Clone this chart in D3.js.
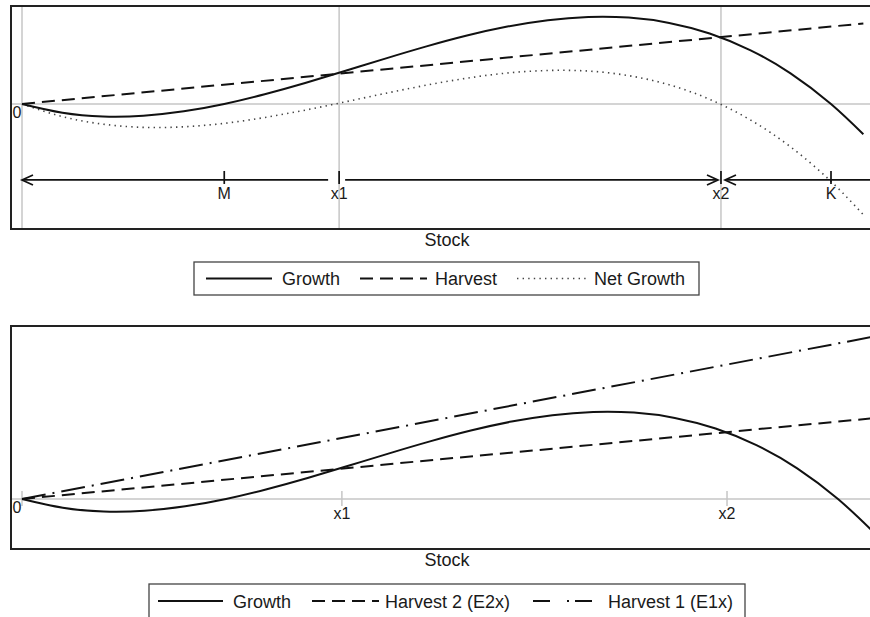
<!DOCTYPE html>
<html>
<head>
<meta charset="utf-8">
<script src="https://cdn.jsdelivr.net/npm/d3@7"></script>
<style>
  html, body { margin: 0; padding: 0; background: #fff; }
  svg { display: block; }
  text { font-family: "Liberation Sans", Arial, Helvetica, sans-serif; fill: #1a1a1a; }
</style>
</head>
<body>
<div id="chart"></div>
<script>
// ---------------- data ----------------
const stock = [0, 5, 10, 15, 20, 25, 30, 35, 40, 45, 50, 55, 60, 65, 70, 75, 80, 85, 90, 95, 100, 104];
const growth = [0, -1.08, -1.54, -1.45, -0.91, 0, 1.20, 2.59, 4.10, 5.64, 7.12, 8.46, 9.57, 10.36, 10.76, 10.68, 10.02, 8.71, 6.66, 3.79, 0, -3.74];
const netGrowth = [0, -1.56, -2.49, -2.89, -2.82, -2.39, -1.67, -0.76, 0.27, 1.33, 2.33, 3.19, 3.83, 4.14, 4.07, 3.50, 2.37, 0.58, -1.95, -5.30, -9.57, -13.69];
const harvestStock = [0, 104];
const harvest = [0, 9.95];        // top panel harvest (= Harvest 2, E2x)
const harvest2 = [0, 9.95];       // bottom panel Harvest 2 (E2x)
const harvest1 = [0, 20.0];       // bottom panel Harvest 1 (E1x)

const topMarkLabels = ["M", "x1", "x2", "K"];
const topMarkStock = [25, 39.2, 86.4, 100];
const gridStock = [0, 39.2, 86.4];
const bottomTickLabels = ["x1", "x2"];
const bottomTickStock = [39.2, 86.4];

const xTitle = "Stock";
const topLegend = ["Growth", "Harvest", "Net Growth"];
const bottomLegend = ["Growth", "Harvest 2 (E2x)", "Harvest 1 (E1x)"];

// ---------------- layout ----------------
const W = 870, H = 617;
const frameL = 11, frameR = 883;
const panelT = { y0: 6, y1: 229 };
const panelB = { y0: 326, y1: 549 };

const svg = d3.select("#chart").append("svg").attr("width", W).attr("height", H);

const xTop = d3.scaleLinear().domain([0, 100]).range([22, 831]);
const yTop = d3.scaleLinear().domain([-15.45, 12.11]).range([panelT.y1, panelT.y0]);
const xBot = d3.scaleLinear().domain([0, 100]).range([22, 838]);
const yBot = d3.scaleLinear().domain([-6.18, 21.38]).range([panelB.y1, panelB.y0]);

const styles = {
  solid:   { stroke: "#111", width: 2, dash: null },
  dash:    { stroke: "#111", width: 2, dash: "13,7" },
  dot:     { stroke: "#444", width: 1.6, dash: "1.4,4.2" },
  dashdot: { stroke: "#111", width: 2, dash: "24,7,2,7" },
  dashdotLegend: { stroke: "#111", width: 2, dash: "17,17,2,6,17" }
};
const gridColor = "#c6c6c6";

const defs = svg.append("defs");
defs.append("clipPath").attr("id", "clipTop").append("rect")
  .attr("x", frameL).attr("y", panelT.y0).attr("width", frameR - frameL).attr("height", panelT.y1 - panelT.y0);
defs.append("clipPath").attr("id", "clipBot").append("rect")
  .attr("x", frameL).attr("y", panelB.y0).attr("width", frameR - frameL).attr("height", panelB.y1 - panelB.y0);

function drawSeries(g, xs, ys, xv, yv, st) {
  const pts = xv.map((v, i) => [xs(v), ys(yv[i])]);
  const line = d3.line().curve(xv.length > 2 ? d3.curveNatural : d3.curveLinear);
  const p = g.append("path").attr("d", line(pts))
    .attr("fill", "none").attr("stroke", st.stroke).attr("stroke-width", st.width)
    .attr("stroke-linejoin", "round");
  if (st.dash) p.attr("stroke-dasharray", st.dash);
  return p;
}

// ================= TOP PANEL =================
const gT = svg.append("g");
gT.selectAll("line.vgrid").data(gridStock).enter().append("line")
  .attr("x1", d => xTop(d)).attr("x2", d => xTop(d))
  .attr("y1", panelT.y0).attr("y2", panelT.y1)
  .attr("stroke", gridColor).attr("stroke-width", 1.5);
gT.append("line").attr("x1", frameL).attr("x2", frameR)
  .attr("y1", yTop(0)).attr("y2", yTop(0))
  .attr("stroke", gridColor).attr("stroke-width", 1.5);

const cT = gT.append("g").attr("clip-path", "url(#clipTop)");
drawSeries(cT, xTop, yTop, harvestStock, harvest, styles.dash);
drawSeries(cT, xTop, yTop, stock, netGrowth, styles.dot);
drawSeries(cT, xTop, yTop, stock, growth, styles.solid);

// number-line with arrows
const arrowLevel = -9.39;
const ay = yTop(arrowLevel);
const ax0 = xTop(0), ax1 = xTop(topMarkStock[1]), ax2 = xTop(topMarkStock[2]);
const arrowG = cT.append("g").attr("stroke", "#111").attr("stroke-width", 1.7).attr("fill", "none");
arrowG.append("line").attr("x1", ax1 - 11).attr("x2", ax0).attr("y1", ay).attr("y2", ay);
arrowG.append("line").attr("x1", ax1 + 6).attr("x2", ax2 - 3).attr("y1", ay).attr("y2", ay);
arrowG.append("line").attr("x1", frameR).attr("x2", ax2 + 4).attr("y1", ay).attr("y2", ay);
function head(tip, dir) { // dir=-1 points left, +1 points right
  return `M${tip - dir * 11},${ay - 5}L${tip},${ay}L${tip - dir * 11},${ay + 5}`;
}
arrowG.append("path").attr("d", head(ax0, -1));
arrowG.append("path").attr("d", head(ax2 - 3, 1));
arrowG.append("path").attr("d", head(ax2 + 4, -1));
arrowG.selectAll("line.tick").data(topMarkStock).enter().append("line")
  .attr("x1", d => xTop(d)).attr("x2", d => xTop(d))
  .attr("y1", ay - 9).attr("y2", ay + 4);

gT.selectAll("text.mark").data(topMarkStock).enter().append("text")
  .attr("x", d => xTop(d)).attr("y", ay + 19.5)
  .attr("text-anchor", "middle").attr("font-size", 16)
  .text((d, i) => topMarkLabels[i]);
gT.append("text").attr("x", 17).attr("y", yTop(0) + 14).attr("text-anchor", "middle")
  .attr("font-size", 16).text("0");

gT.append("rect").attr("x", frameL).attr("y", panelT.y0)
  .attr("width", frameR - frameL).attr("height", panelT.y1 - panelT.y0)
  .attr("fill", "none").attr("stroke", "#222").attr("stroke-width", 2);
gT.append("text").attr("x", 447).attr("y", 246).attr("text-anchor", "middle")
  .attr("font-size", 18).text(xTitle);

function legend(g, box, items) {
  g.append("rect").attr("x", box.x).attr("y", box.y).attr("width", box.w).attr("height", box.h)
    .attr("fill", "#fff").attr("stroke", "#444").attr("stroke-width", 1.3);
  items.forEach(it => {
    const st = it.style;
    const l = g.append("line").attr("x1", it.l0).attr("x2", it.l1).attr("y1", box.ly).attr("y2", box.ly)
      .attr("stroke", st.stroke).attr("stroke-width", st.width);
    if (st.dash) l.attr("stroke-dasharray", st.dash);
    g.append("text").attr("x", it.tx).attr("y", box.ty).attr("font-size", 18).text(it.label);
  });
}
legend(svg.append("g"), { x: 194, y: 262, w: 505, h: 33, ly: 278.5, ty: 285 }, [
  { style: styles.solid, l0: 206, l1: 272, tx: 282, label: topLegend[0] },
  { style: styles.dash, l0: 360, l1: 427, tx: 435, label: topLegend[1] },
  { style: styles.dot, l0: 517, l1: 587, tx: 594, label: topLegend[2] }
]);

// ================= BOTTOM PANEL =================
const gB = svg.append("g");
gB.append("line").attr("x1", frameL).attr("x2", frameR)
  .attr("y1", yBot(0)).attr("y2", yBot(0))
  .attr("stroke", gridColor).attr("stroke-width", 1.5);
gB.selectAll("line.btick").data([0].concat(bottomTickStock)).enter().append("line")
  .attr("x1", d => xBot(d)).attr("x2", d => xBot(d))
  .attr("y1", yBot(0) - 8).attr("y2", yBot(0) + 7)
  .attr("stroke", gridColor).attr("stroke-width", 1.5);

const cB = gB.append("g").attr("clip-path", "url(#clipBot)");
drawSeries(cB, xBot, yBot, harvestStock, harvest1, styles.dashdot);
drawSeries(cB, xBot, yBot, harvestStock, harvest2, styles.dash);
drawSeries(cB, xBot, yBot, stock, growth, styles.solid);

gB.selectAll("text.bl").data(bottomTickStock).enter().append("text")
  .attr("x", d => xBot(d)).attr("y", yBot(0) + 20)
  .attr("text-anchor", "middle").attr("font-size", 16)
  .text((d, i) => bottomTickLabels[i]);
gB.append("text").attr("x", 17).attr("y", yBot(0) + 14).attr("text-anchor", "middle")
  .attr("font-size", 16).text("0");

gB.append("rect").attr("x", frameL).attr("y", panelB.y0)
  .attr("width", frameR - frameL).attr("height", panelB.y1 - panelB.y0)
  .attr("fill", "none").attr("stroke", "#222").attr("stroke-width", 2);
gB.append("text").attr("x", 447).attr("y", 566).attr("text-anchor", "middle")
  .attr("font-size", 18).text(xTitle);

legend(svg.append("g"), { x: 149, y: 584, w: 596, h: 35, ly: 601, ty: 608 }, [
  { style: styles.solid, l0: 158, l1: 223, tx: 233, label: bottomLegend[0] },
  { style: styles.dash, l0: 312, l1: 379, tx: 385, label: bottomLegend[1] },
  { style: styles.dashdotLegend, l0: 533, l1: 592, tx: 608, label: bottomLegend[2] }
]);
</script>
</body>
</html>
